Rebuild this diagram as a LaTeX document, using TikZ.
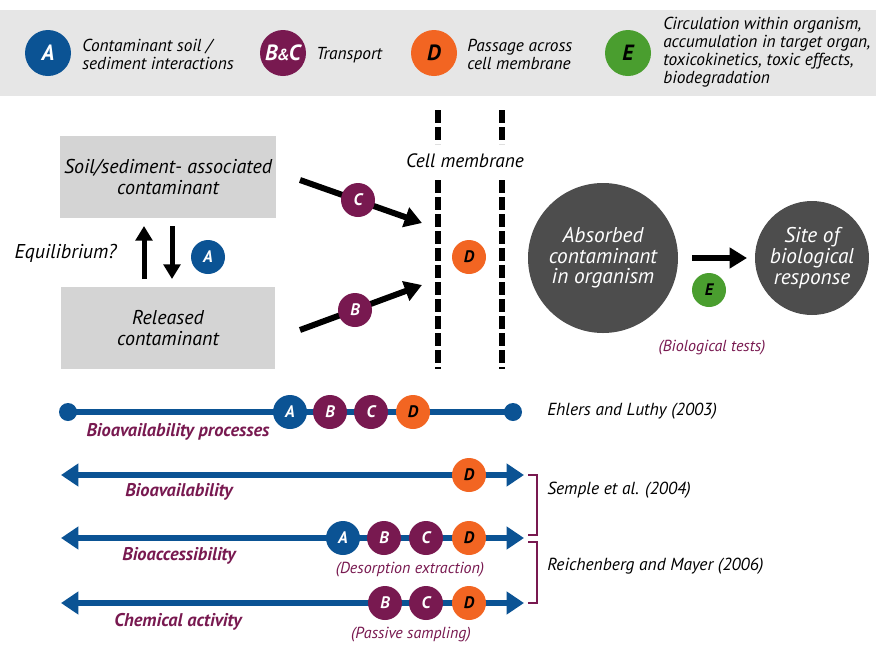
\documentclass[tikz,border=0pt]{standalone}
\usepackage{fontspec}
\setmainfont{PT Sans}
\usetikzlibrary{arrows.meta}
\definecolor{cblue}{HTML}{0B5394}
\definecolor{cpurple}{HTML}{781950}
\definecolor{corange}{HTML}{F26522}
\definecolor{cgreen}{HTML}{4A9E2F}
\definecolor{cdark}{HTML}{4D4D4D}
\definecolor{cbox}{HTML}{D4D4D4}
\definecolor{cband}{HTML}{E6E6E6}
\newcommand\myfs[2]{\fontsize{#1}{#2}\selectfont}
\tikzset{
  badge/.style={circle, inner sep=0pt, minimum size=25.5pt, font=\bfseries\itshape\myfs{12.5}{12.5}},
  ba/.style={badge, fill=cblue, text=white},
  bp/.style={badge, fill=cpurple, text=white},
  bd/.style={badge, fill=corange, text=black},
  be/.style={badge, fill=cgreen, text=black},
  lbadge/.style={minimum size=34.5pt, font=\bfseries\itshape\myfs{16.5}{16.5}},
  legtext/.style={anchor=west, align=left, inner sep=0pt, font=\itshape\myfs{13}{13.5}},
  boxnode/.style={fill=cbox, minimum width=160.5pt, minimum height=61.5pt, align=center, font=\itshape\myfs{15}{15.75}},
  bigcirc/.style={circle, fill=cdark, text=white, align=center, inner sep=0pt, font=\itshape\myfs{16}{15.5}},
  fatarrow/.style={line width=4.5pt, -{Triangle[length=13pt,width=15pt]}},
  eqarrow/.style={line width=3.75pt, -{Triangle[length=11pt,width=12.5pt]}},
  membrane/.style={line width=5pt, dash pattern=on 9.75pt off 3pt},
  scaleline/.style={line width=4.5pt, draw=cblue},
  dblarrow/.style={scaleline, {Triangle[length=13pt,width=16.5pt]}-{Triangle[length=13pt,width=16.5pt]}},
  rowlabel/.style={text=cpurple, font=\bfseries\itshape\myfs{13.8}{14}, inner sep=0pt},
  sublabel/.style={text=cpurple, font=\itshape\myfs{12}{12}, inner sep=0pt},
  reftext/.style={anchor=west, inner sep=0pt, font=\itshape\myfs{13.1}{13}},
  bracket/.style={draw=cpurple, line width=1.5pt},
}
\begin{document}
\begin{tikzpicture}[x=0.75pt,y=-0.75pt]
\useasboundingbox (0,0) rectangle (876,644);
% legend band
\fill[cband] (0,10) rectangle (876,96);
\node[ba,lbadge] (LA) at (48,53) {A};
\node[legtext] (LAt) at (82,54) {Contaminant soil /\\sediment interactions};
\node[bp,lbadge] (LBC) at (283,53) {B\kern-0.5pt\raisebox{0.5pt}{\myfs{12}{12}\&}\kern-0.5pt C};
\node[legtext] (LBCt) at (316,55) {Transport};
\node[bd,lbadge] (LD) at (434,53) {D};
\node[legtext] (LDt) at (467,54) {Passage across\\cell membrane};
\node[be,lbadge] (LE) at (628,53) {E};
\node[legtext] (LEt) at (663,52) {Circulation within organism,\\accumulation in target organ,\\toxicokinetics, toxic effects,\\biodegradation};

% boxes
\node[boxnode] (soil) at (168,177) {Soil/sediment- associated\\contaminant};
\node[boxnode] (rel) at (168,328) {Released\\contaminant};
\coordinate (u1) at (144,279);
\coordinate (u2) at (144,226);
\coordinate (d1) at (172,226);
\coordinate (d2) at (172,279);
\draw[eqarrow] (u1) -- (u2);
\draw[eqarrow] (d1) -- (d2);
\node[anchor=east, inner sep=0pt, font=\itshape\myfs{15}{15}] (eq) at (117,253) {Equilibrium?};
\node[ba] (eqA) at (208,257) {A};

% transport arrows
\coordinate (c1) at (300,180);
\coordinate (c2) at (422,223);
\coordinate (b1) at (300,330);
\coordinate (b2) at (422,285);
\draw[fatarrow] (c1) -- (c2);
\draw[fatarrow] (b1) -- (b2);
\node[bp] (tC) at (358,200) {C};
\node[bp] (tB) at (355,310) {B};

% membrane
\coordinate (m1a) at (438,110);
\coordinate (m1b) at (438,144);
\coordinate (m1c) at (438,180);
\coordinate (m1d) at (438,369);
\coordinate (m2a) at (502,110);
\coordinate (m2b) at (502,144);
\coordinate (m2c) at (502,180);
\coordinate (m2d) at (502,369);
\draw[membrane] (m1a) -- (m1b);
\draw[membrane] (m1c) -- (m1d);
\draw[membrane] (m2a) -- (m2b);
\draw[membrane] (m2c) -- (m2d);
\node[font=\itshape\myfs{14.5}{14}, inner sep=0pt] (cm) at (465,161) {Cell membrane};
\node[bd] (mD) at (469,257) {D};

% organism
\node[bigcirc, minimum size=112.5pt] (abs) at (603,258) {Absorbed\\contaminant\\in organism};
\node[bigcirc, minimum size=85.5pt] (site) at (812,258) {Site of\\biological\\response};
\coordinate (e1) at (692,258);
\coordinate (e2) at (747,258);
\draw[fatarrow] (e1) -- (e2);
\node[be] (oE) at (709,290) {E};
\node[sublabel] (bt) at (712,348) {(Biological tests)};

% row 1
\coordinate (r1a) at (68,412);
\coordinate (r1b) at (513,412);
\draw[scaleline] (r1a) -- (r1b);
\fill[cblue] (r1a) circle (9);
\fill[cblue] (r1b) circle (9);
\node[ba] (r1A) at (290,412) {A};
\node[bp] (r1B) at (330,412) {B};
\node[bp] (r1C) at (371,412) {C};
\node[bd] (r1D) at (413,412) {D};
\node[rowlabel] (r1l) at (178,432) {Bioavailability processes};
\node[reftext] (ref1) at (547,411) {Ehlers and Luthy (2003)};

% row 2
\coordinate (r2a) at (61,475);
\coordinate (r2b) at (524,475);
\draw[dblarrow] (r2a) -- (r2b);
\node[bd] (r2D) at (469,475) {D};
\node[rowlabel] (r2l) at (179,492) {Bioavailability};

% row 3
\coordinate (r3a) at (61,538);
\coordinate (r3b) at (524,538);
\draw[dblarrow] (r3a) -- (r3b);
\node[ba] (r3A) at (343,538) {A};
\node[bp] (r3B) at (384,538) {B};
\node[bp] (r3C) at (426,538) {C};
\node[bd] (r3D) at (469,538) {D};
\node[rowlabel] (r3l) at (179,556) {Bioaccessibility};
\node[sublabel] (r3s) at (410,570) {(Desorption extraction)};

% row 4
\coordinate (r4a) at (61,603);
\coordinate (r4b) at (524,603);
\draw[dblarrow] (r4a) -- (r4b);
\node[bp] (r4B) at (385,603) {B};
\node[bp] (r4C) at (426,603) {C};
\node[bd] (r4D) at (469,603) {D};
\node[rowlabel] (r4l) at (178,622) {Chemical activity};
\node[sublabel] (r4s) at (411,635) {(Passive sampling)};

% brackets and refs
\coordinate (k1) at (528,475);
\coordinate (k2) at (537,475);
\coordinate (k3) at (537,535);
\coordinate (k4) at (528,535);
\draw[bracket] (k1) -- (k2) -- (k3) -- (k4);
\coordinate (j1) at (528,542);
\coordinate (j2) at (537,542);
\coordinate (j3) at (537,603);
\coordinate (j4) at (528,603);
\draw[bracket] (j1) -- (j2) -- (j3) -- (j4);
\node[reftext] (ref2) at (547,490) {Semple et al. (2004)};
\node[reftext] (ref3) at (547,566) {Reichenberg and Mayer (2006)};
\end{tikzpicture}
\end{document}
